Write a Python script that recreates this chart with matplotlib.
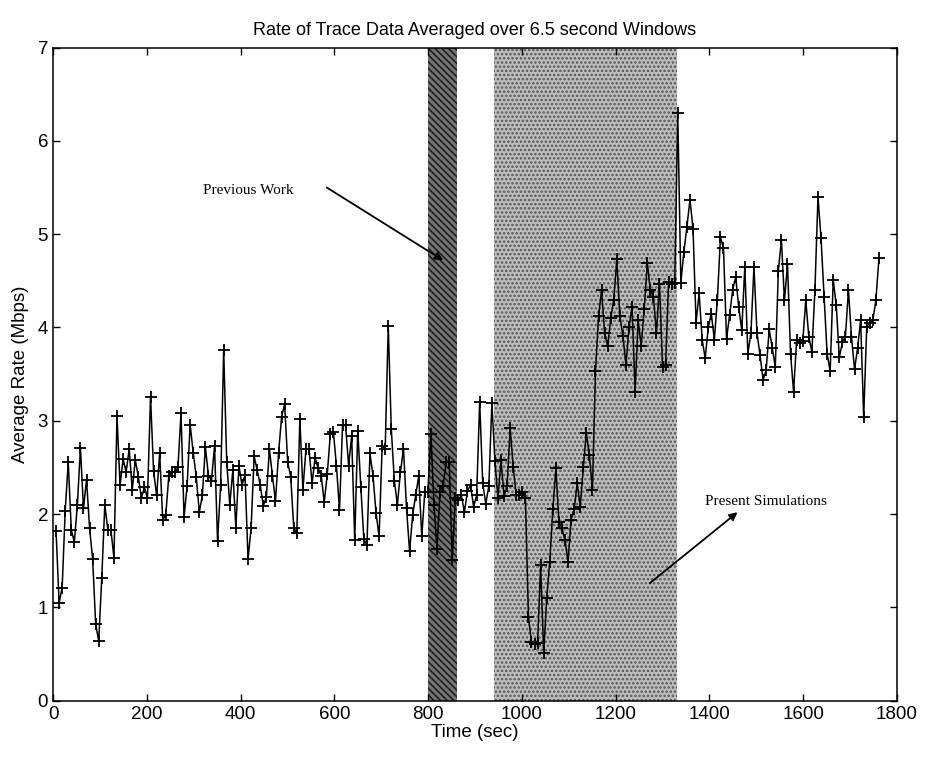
# -*- coding: utf-8 -*-
"""
Rate of trace data averaged over 6.5 s windows, with the
'Previous Work' and 'Present Simulations' intervals shaded.
"""
import numpy as np
import matplotlib
matplotlib.use("Agg")
import matplotlib.pyplot as plt

WINDOW = 6.5  # seconds per averaging window

# average rate (Mbps), one value per window, split by time stretch
rate_000_325 = [
    1.82, 1.05, 1.21, 2.03, 2.56, 1.83, 1.70, 2.10, 2.71, 2.06,
    2.37, 1.85, 1.52, 0.82, 0.64, 1.32, 2.10, 1.83, 1.83, 1.53,
    3.05, 2.31, 2.59, 2.45, 2.70, 2.26, 2.58, 2.40, 2.17, 2.29,
    2.17, 3.26, 2.46, 2.20, 2.65, 1.94, 1.99, 2.41, 2.45, 2.45,
    2.50, 3.08, 1.97, 2.30, 2.96, 2.66, 2.40, 2.02, 2.20, 2.72,
]
rate_325_645 = [
    2.41, 2.36, 2.73, 1.71, 2.31, 3.76, 2.56, 2.10, 2.47, 1.85,
    2.52, 2.31, 2.42, 1.52, 1.85, 2.62, 2.47, 2.31, 2.09, 2.18,
    2.70, 2.41, 2.14, 2.65, 3.04, 3.18, 2.56, 2.40, 1.85, 1.80,
    3.02, 2.26, 2.70, 2.70, 2.33, 2.60, 2.49, 2.41, 2.13, 2.43,
    2.86, 2.88, 2.52, 2.04, 2.95, 2.95, 2.52, 2.84, 1.72,
]
rate_645_945 = [
    2.89, 2.29, 1.73, 1.67, 2.65, 2.41, 2.01, 1.76, 2.73, 2.70,
    4.02, 2.91, 2.36, 2.10, 2.45, 2.70, 2.06, 1.60, 1.99, 2.20,
    2.41, 1.76, 2.24, 2.24, 2.86, 2.10, 1.63, 2.24, 2.30, 2.56,
    2.56, 1.51, 2.17, 2.15, 2.20, 2.02, 2.25, 2.31, 2.08, 2.20,
    3.20, 2.33, 2.11, 2.30, 3.19, 2.57,
]
rate_945_1160 = [
    2.17, 2.58, 2.19, 2.30, 2.92, 2.51, 2.20, 2.20, 2.24, 2.17,
    0.90, 0.63, 0.61, 0.62, 1.45, 0.51, 1.10, 1.49, 2.05, 2.49,
    1.92, 1.85, 1.72, 1.49, 1.94, 2.05, 2.33, 2.08, 2.50, 2.87,
    2.63, 2.26, 3.53,
]
rate_1160_1335 = [
    4.12, 4.40, 3.94, 3.80, 4.10, 4.30, 4.73, 4.12, 3.91, 3.60,
    4.00, 4.22, 3.31, 4.08, 3.80, 4.20, 4.69, 4.40, 4.33, 3.94,
    4.47, 3.58, 3.60, 4.49, 4.47, 4.48, 6.30,
]
rate_1335_1580 = [
    4.48, 4.81, 5.08, 5.37, 5.06, 4.05, 4.37, 3.87, 3.67, 4.00,
    4.15, 3.87, 4.30, 4.97, 4.85, 3.88, 4.13, 4.40, 4.54, 4.22,
    3.97, 4.65, 3.72, 3.94, 4.65, 3.94, 3.70, 3.44, 3.54, 3.98,
    3.78, 3.58, 4.61, 4.94, 4.29, 4.68, 3.72, 3.31,
]
rate_1580_1760 = [
    3.87, 3.83, 3.85, 4.29, 3.90, 3.74, 4.40, 5.40, 4.96, 4.33,
    3.72, 3.53, 4.51, 4.24, 3.68, 3.84, 3.90, 4.40, 3.90, 3.55,
    3.78, 4.08, 3.04, 4.01, 4.05, 4.08, 4.29, 4.74,
]

# shaded intervals (sec)
previous_work = (800, 862)
present_sims = (940, 1330)

xticks = [0, 200, 400, 600, 800, 1000, 1200, 1400, 1600, 1800]
yticks = [0, 1, 2, 3, 4, 5, 6, 7]

rate = np.array(rate_000_325 + rate_325_645 + rate_645_945 + rate_945_1160
                + rate_1160_1335 + rate_1335_1580 + rate_1580_1760)
t = WINDOW * (np.arange(len(rate)) + 1)

plt.rcParams["hatch.linewidth"] = 1.2

fig = plt.figure(figsize=(9.25, 7.58), dpi=100)
ax = fig.add_axes([0.0573, 0.0756, 0.9124, 0.8616])

ax.axvspan(*previous_work, facecolor="#747474", edgecolor="#1e1e1e",
           hatch="\\\\\\\\\\", linewidth=0, zorder=1)
ax.axvspan(*present_sims, facecolor="#bdbdbd", edgecolor="#555555",
           hatch="....", linewidth=0, zorder=1)

ax.plot(t, rate, color="black", linewidth=1.1, marker="+",
        markersize=8, markeredgewidth=1.3, zorder=3)

ax.set_xlim(0, 1800)
ax.set_ylim(0, 7)
ax.set_xticks(xticks)
ax.set_yticks(yticks)
ax.tick_params(direction="in", top=True, right=True, length=5,
               width=1, labelsize=13.5)
for lab in ax.get_xticklabels() + ax.get_yticklabels():
    lab.set_family("Liberation Sans")
for s in ax.spines.values():
    s.set_linewidth(1.1)

ax.set_title("Rate of Trace Data Averaged over 6.5 second Windows",
             fontsize=13, family="Liberation Sans", pad=9)
ax.set_xlabel("Time (sec)", fontsize=13.5, family="Liberation Sans", labelpad=1)
ax.set_ylabel("Average Rate (Mbps)", fontsize=13.5, family="Liberation Sans", labelpad=6)

# annotations
ax.text(320, 5.47, "Previous Work", family="Liberation Serif", fontsize=11,
        va="center", ha="left")
ax.annotate("", xy=(832, 4.72), xytext=(584, 5.50),
            arrowprops=dict(arrowstyle="-|>", color="black", lw=1.3,
                            mutation_scale=12, shrinkA=0, shrinkB=0))
ax.text(1390, 2.13, "Present Simulations", family="Liberation Serif",
        fontsize=11, va="center", ha="left")
ax.annotate("", xy=(1460, 2.02), xytext=(1273, 1.26),
            arrowprops=dict(arrowstyle="-|>", color="black", lw=1.3,
                            mutation_scale=12, shrinkA=0, shrinkB=0))

plt.savefig("out.png", dpi=100)
plt.close()
